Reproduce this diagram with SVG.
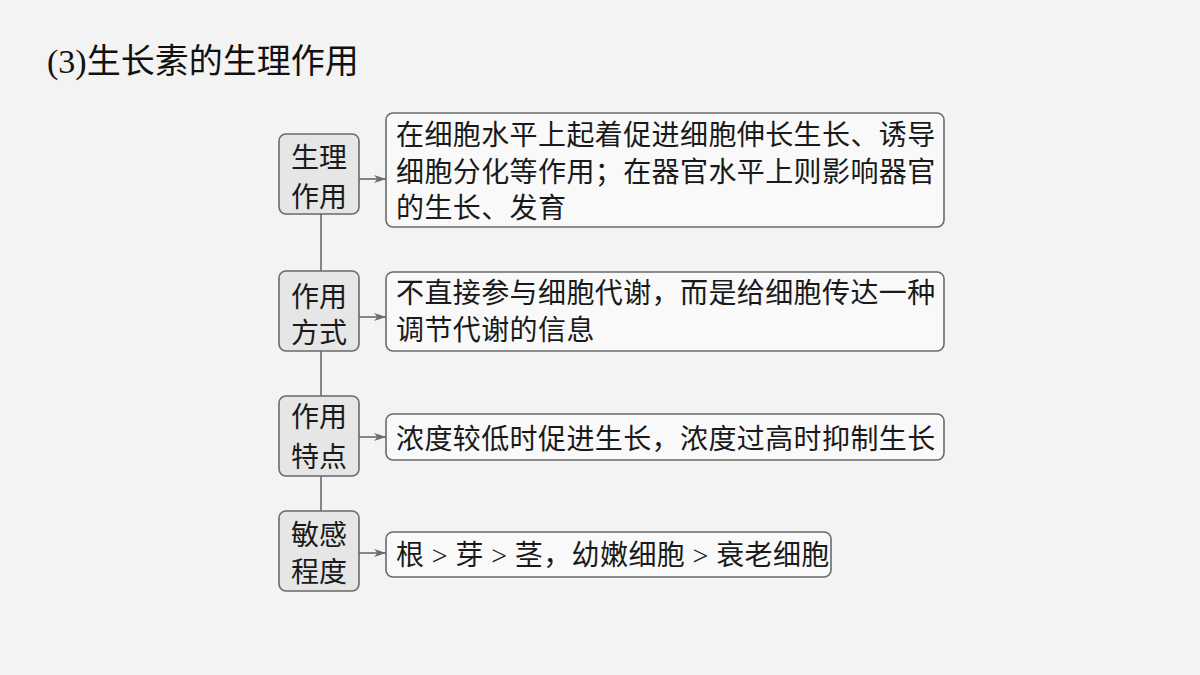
<svg xmlns="http://www.w3.org/2000/svg" width="1200" height="675" viewBox="0 0 1200 675">
<defs>
<marker id="arr" viewBox="0 0 12 10" refX="12" refY="5" markerWidth="12" markerHeight="10" markerUnits="userSpaceOnUse" orient="auto">
<path d="M0,1 L12,5 L0,9 L3.5,5 Z" fill="#6a6a6a"/>
</marker>
</defs>
<style>
.bg{fill:#f3f3f3}
.lbox{fill:#e6e6e6;stroke:#6a6a6a;stroke-width:1.6}
.rbox{fill:#f9f9f9;stroke:#6a6a6a;stroke-width:1.6}
.t{font-family:"Liberation Serif","Noto Sans CJK SC",serif;font-size:28px;fill:#1a1a1a;letter-spacing:0.4px}
.lt{font-family:"Liberation Serif","Noto Sans CJK SC",serif;font-size:28px;fill:#1a1a1a;text-anchor:middle}
.title{font-family:"Liberation Serif","Noto Sans CJK SC",serif;font-size:34px;fill:#111}
.c{stroke:#6a6a6a;stroke-width:1.6;fill:none}
</style>
<rect class="bg" x="0" y="0" width="1200" height="675"/>
<text class="title" x="47" y="73">(3)生长素的生理作用</text>
<g id="connectors">
<line class="c" x1="321" y1="214" x2="321" y2="511"/>
<line class="c" x1="359" y1="179" x2="386" y2="179" marker-end="url(#arr)"/>
<line class="c" x1="359" y1="317" x2="386" y2="317" marker-end="url(#arr)"/>
<line class="c" x1="359" y1="437" x2="386" y2="437" marker-end="url(#arr)"/>
<line class="c" x1="359" y1="553" x2="386" y2="553" marker-end="url(#arr)"/>
</g>
<g id="n1">
<rect class="lbox" x="279" y="134" width="80" height="80" rx="7"/>
<text class="lt" x="319" y="168">生理</text>
<text class="lt" x="319" y="207">作用</text>
</g>
<g id="n2">
<rect class="lbox" x="279" y="271" width="80" height="80" rx="7"/>
<text class="lt" x="319" y="307">作用</text>
<text class="lt" x="319" y="343">方式</text>
</g>
<g id="n3">
<rect class="lbox" x="279" y="396" width="80" height="80" rx="7"/>
<text class="lt" x="319" y="427">作用</text>
<text class="lt" x="319" y="467">特点</text>
</g>
<g id="n4">
<rect class="lbox" x="279" y="511" width="80" height="80" rx="7"/>
<text class="lt" x="319" y="545">敏感</text>
<text class="lt" x="319" y="582">程度</text>
</g>
<g id="d1">
<rect class="rbox" x="386" y="113" width="558" height="114" rx="7"/>
<text class="t" x="396" y="145">在细胞水平上起着促进细胞伸长生长、诱导</text>
<text class="t" x="396" y="182">细胞分化等作用；在器官水平上则影响器官</text>
<text class="t" x="396" y="218">的生长、发育</text>
</g>
<g id="d2">
<rect class="rbox" x="386" y="272" width="558" height="79" rx="7"/>
<text class="t" x="396" y="303">不直接参与细胞代谢，而是给细胞传达一种</text>
<text class="t" x="396" y="340">调节代谢的信息</text>
</g>
<g id="d3">
<rect class="rbox" x="386" y="414" width="558" height="46" rx="7"/>
<text class="t" x="396" y="449">浓度较低时促进生长，浓度过高时抑制生长</text>
</g>
<g id="d4">
<rect class="rbox" x="386" y="532" width="445" height="45" rx="7"/>
<text class="t" x="396" y="565">根 &gt; 芽 &gt; 茎，幼嫩细胞 &gt; 衰老细胞</text>
</g>
</svg>
